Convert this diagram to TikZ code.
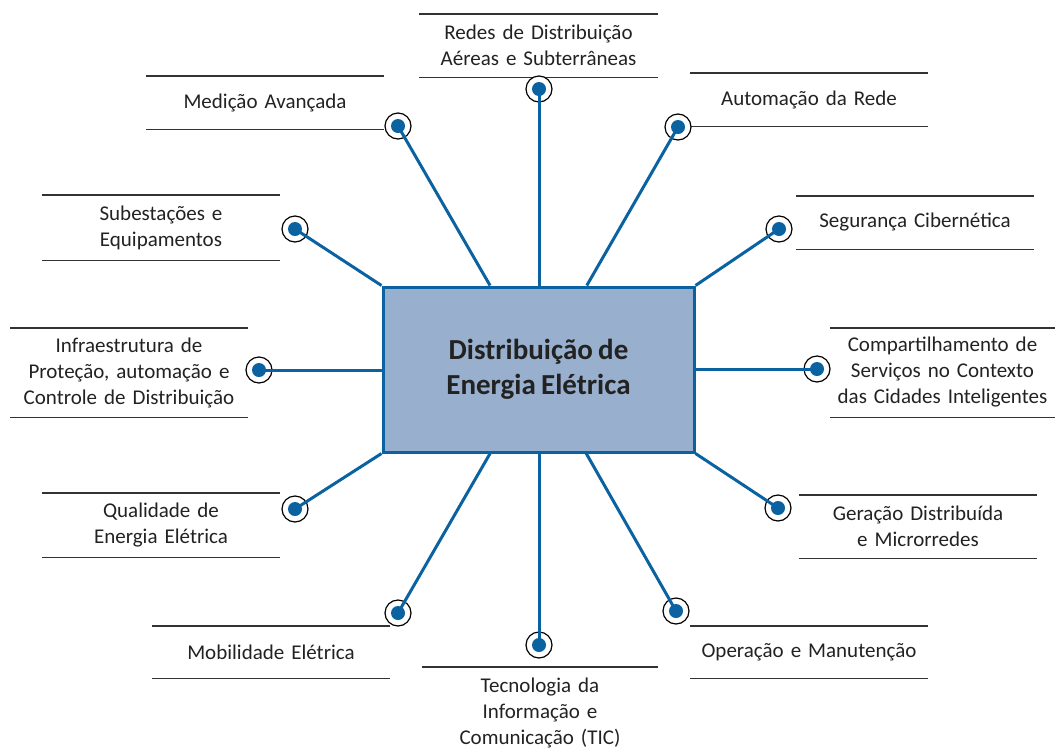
\documentclass[tikz,border=0pt]{standalone}
\usepackage{fontspec}
\setmainfont[WordSpace=0.8]{Carlito}
\usepackage{tikz}
\usetikzlibrary{positioning}
\definecolor{linkblue}{HTML}{0B62A0}
\definecolor{hubfill}{HTML}{98AFCE}
\definecolor{rulegray}{HTML}{333333}
\definecolor{textgray}{HTML}{222222}

\tikzset{
  hub/.style={draw=linkblue, fill=hubfill, line width=3pt, minimum width=311pt,
    minimum height=165pt, align=center, text=textgray,
    font=\bfseries\fontsize{29}{35}\selectfont},
  topic/.style={text width=238pt, align=center, inner xsep=0pt, text=textgray,
    font=\fontsize{21}{26}\selectfont},
  pin/.style={circle, draw=black, fill=white, line width=1.2pt, minimum size=26pt,
    inner sep=0pt, path picture={\fill[linkblue] (path picture bounding box.center) circle (7pt);}},
  link/.style={draw=linkblue, line width=3pt},
  rule/.style={draw=rulegray, line width=1.4pt}
}

\begin{document}
\begin{tikzpicture}[x=1pt,y=-1pt]
      \useasboundingbox (0,0) rectangle (1055,753);
      % central box
      \node[hub] (hub) at (538.5,369.5) {Distribuição de\\Energia Elétrica};
      % topics
      \node[topic, minimum height=63pt] (redes) at (538.5,45.5) {Redes de Distribuição\\Aéreas e Subterrâneas};
      \node[topic, minimum height=53pt] (medicao) at (265,102.5) {Medição Avançada};
      \node[topic, minimum height=53pt] (automacao) at (809,99.5) {Automação da Rede};
      \node[topic, minimum height=65pt] (subestacoes) at (161,227.5) {Subestações e\\Equipamentos};
      \node[topic, minimum height=53pt] (seguranca) at (915,222.5) {Segurança Cibernética};
      \node[topic, minimum height=89pt] (infra) at (129,372.5) {Infraestrutura de\\Proteção, automação e\\Controle de Distribuição};
      \node[topic, minimum height=89pt, text width=225pt] (compart) at (942.5,372.5) {Compartilhamento de\\Serviços no Contexto\\das Cidades Inteligentes};
      \node[topic, minimum height=64pt] (qualidade) at (161,525) {Qualidade de\\Energia Elétrica};
      \node[topic, minimum height=63pt] (geracao) at (918,526.5) {Geração Distribuída\\e Microrredes};
      \node[topic, minimum height=52pt] (mobilidade) at (271,652) {Mobilidade Elétrica};
      \node[topic, minimum height=52pt] (operacao) at (809,652) {Operação e Manutenção};
      \node[topic, minimum height=92pt, text width=236pt] (tecnologia) at (540,713) {Tecnologia da\\Informação e\\Comunicação (TIC)};
      \foreach \n in {redes,medicao,automacao,subestacoes,seguranca,infra,compart,qualidade,geracao,mobilidade,operacao}
        \draw[rule] (\n.north west) -- (\n.north east) (\n.south west) -- (\n.south east);
      \draw[rule] (tecnologia.north west) -- (tecnologia.north east);
      % pins
      \node[pin] (p-redes) at (539,89) {};
      \node[pin] (p-medicao) at (398,126) {};
      \node[pin] (p-automacao) at (678,127) {};
      \node[pin] (p-subestacoes) at (295,229) {};
      \node[pin] (p-seguranca) at (779,229) {};
      \node[pin] (p-infra) at (259,370) {};
      \node[pin] (p-compart) at (817,369) {};
      \node[pin] (p-qualidade) at (295,509) {};
      \node[pin] (p-geracao) at (778,508) {};
      \node[pin] (p-mobilidade) at (398,613) {};
      \node[pin] (p-operacao) at (676,611) {};
      \node[pin] (p-tecnologia) at (539,645) {};
      % links
      \draw[link] (p-redes.center) -- (p-redes.center |- hub.north);
      \draw[link] (p-tecnologia.center) -- (p-tecnologia.center |- hub.south);
      \draw[link] (p-infra.center) -- (p-infra.center -| hub.west);
      \draw[link] (p-compart.center) -- (p-compart.center -| hub.east);
      \draw[link] (p-subestacoes.center) -- (hub.north west);
      \draw[link] (p-seguranca.center) -- (hub.north east);
      \draw[link] (p-qualidade.center) -- (hub.south west);
      \draw[link] (p-geracao.center) -- (hub.south east);
      \draw[link] (p-medicao.center) -- (hub);
      \draw[link] (p-automacao.center) -- (hub);
      \draw[link] (p-mobilidade.center) -- (hub);
      \draw[link] (p-operacao.center) -- (hub);
    \end{tikzpicture}
\end{document}
